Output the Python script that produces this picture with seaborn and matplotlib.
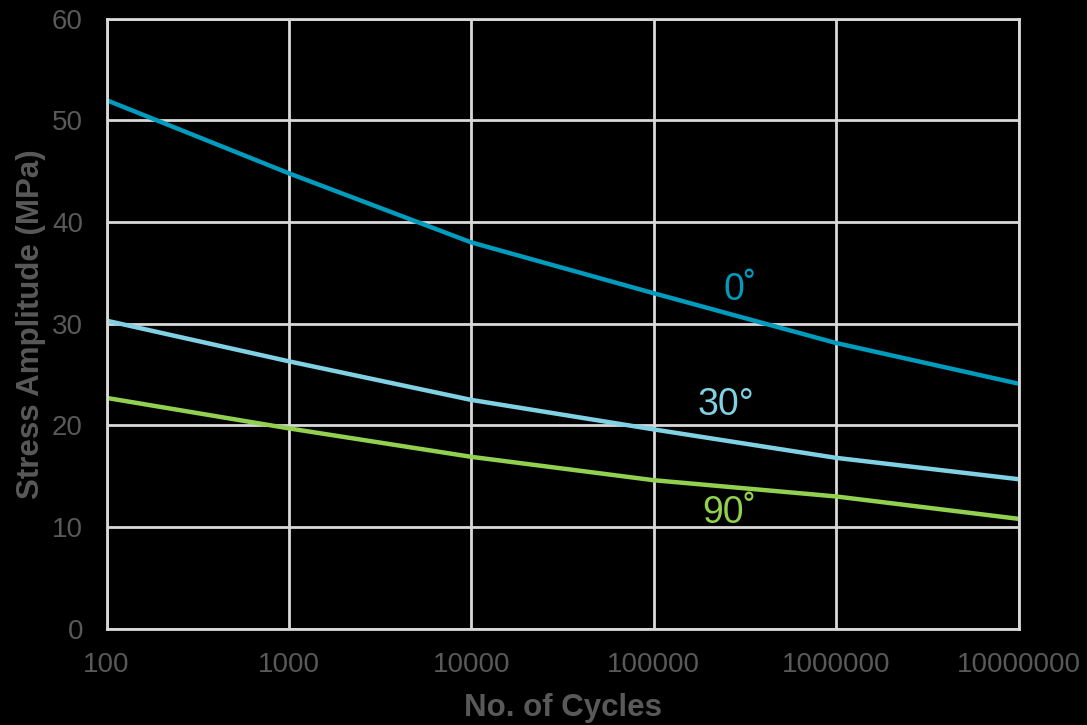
import pandas as pd
import seaborn as sns
import matplotlib
matplotlib.use("Agg")
import matplotlib.pyplot as plt
from matplotlib.ticker import FixedLocator, FixedFormatter, NullLocator

# --------------------------------------------------------------------------- #
# Data
# --------------------------------------------------------------------------- #
CYCLES = [100, 1000, 10000, 100000, 1000000, 10000000]
STRESS_0 = [52.0, 44.8, 38.0, 33.0, 28.1, 24.1]
STRESS_30 = [30.3, 26.3, 22.5, 19.6, 16.8, 14.7]
STRESS_90 = [22.7, 19.7, 16.9, 14.6, 13.0, 10.8]

SERIES_NAMES = ["0˚", "30°", "90˚"]
X_TICK_LABELS = ["100", "1000", "10000", "100000", "1000000", "10000000"]
Y_TICKS = [0, 10, 20, 30, 40, 50, 60]

COLORS = {"0˚": "#009BBD", "30°": "#7FD1E3", "90˚": "#92D050"}
TEXT_GREY = "#595959"
GRID_GREY = "#D9D9D9"

# --------------------------------------------------------------------------- #
# Long-form table
# --------------------------------------------------------------------------- #
frames = []
for name, vals in zip(SERIES_NAMES, [STRESS_0, STRESS_30, STRESS_90]):
    frames.append(pd.DataFrame({"cycles": CYCLES, "stress": vals, "angle": name}))
df = pd.concat(frames, ignore_index=True)

sns.set_theme(style="dark")
plt.rcParams["font.family"] = ["Liberation Sans", "DejaVu Sans"]

fig, ax = plt.subplots(figsize=(10.87, 7.25), dpi=100)
fig.patch.set_facecolor("black")
ax.set_facecolor("black")

sns.lineplot(
    data=df, x="cycles", y="stress", hue="angle",
    palette=COLORS, linewidth=3.2, legend=False, ax=ax,
)

ax.set_xscale("log")
ax.set_xlim(100, 10000000)
ax.set_ylim(0, 60)
ax.xaxis.set_major_locator(FixedLocator(CYCLES))
ax.xaxis.set_major_formatter(FixedFormatter(X_TICK_LABELS))
ax.xaxis.set_minor_locator(NullLocator())
ax.set_yticks(Y_TICKS)

ax.grid(True, color=GRID_GREY, linewidth=2)
ax.set_axisbelow(True)
for side in ["left", "right", "top", "bottom"]:
    ax.spines[side].set_visible(True)
    ax.spines[side].set_color(GRID_GREY)
    ax.spines[side].set_linewidth(2)

ax.tick_params(axis="both", colors=TEXT_GREY, labelsize=20, length=0)
ax.tick_params(axis="x", pad=17)
ax.tick_params(axis="y", pad=17)

ax.set_xlabel("No. of Cycles", fontsize=22.5, fontweight="bold", color=TEXT_GREY, labelpad=11)
ax.set_ylabel("Stress Amplitude (MPa)", fontsize=22.5, fontweight="bold", color=TEXT_GREY, labelpad=4)

# Series labels
ax.text(240000, 32.35, "0˚", color=COLORS["0˚"], fontsize=27, va="baseline")
ax.text(173000, 21.0, "30°", color=COLORS["30°"], fontsize=27, va="baseline")
ax.text(184000, 10.4, "90˚", color=COLORS["90˚"], fontsize=27, va="baseline")

fig.subplots_adjust(left=0.098, right=0.937, top=0.974, bottom=0.133)
fig.savefig("out.png", dpi=100, facecolor="black")
